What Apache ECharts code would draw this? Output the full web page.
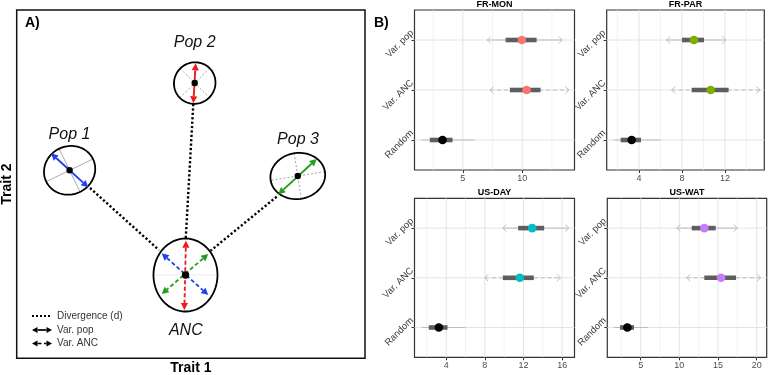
<!DOCTYPE html>
<html><head><meta charset="utf-8">
<script src="https://cdn.jsdelivr.net/npm/echarts@6/dist/echarts.min.js"></script>
<style>html,body{margin:0;padding:0;background:#fff}#c{width:768px;height:375px}</style>
</head><body><div id="c"></div>
<script>
// ================= DATA =================
// Panel B: rows (bottom to top)
const categories = ['Random', 'Var. ANC', 'Var. pop'];
const panelNames = ['FR-MON', 'FR-PAR', 'US-DAY', 'US-WAT'];

// values per category, ordered as `categories`
const frMonLow95  = [1.49, 7.28, 7.05];
const frMonLow50  = [2.22, 8.96, 8.60];
const frMonMid    = [3.29, 10.37, 9.97];
const frMonHigh50 = [4.13, 11.54, 11.21];
const frMonHigh95 = [6.01, 13.93, 13.37];

const frParLow95  = [1.61, 7.04, 6.57];
const frParLow50  = [2.30, 8.90, 8.00];
const frParMid    = [3.32, 10.67, 9.12];
const frParHigh50 = [4.19, 12.34, 10.05];
const frParHigh95 = [6.02, 15.26, 12.09];

const usDayLow95  = [1.48, 8.00, 9.86];
const usDayLow50  = [2.20, 9.86, 11.45];
const usDayMid    = [3.24, 11.62, 12.90];
const usDayHigh50 = [4.14, 13.07, 14.14];
const usDayHigh95 = [6.00, 15.83, 16.69];

const usWatLow95  = [1.55, 10.95, 9.66];
const usWatLow50  = [2.33, 13.23, 11.60];
const usWatMid    = [3.28, 15.39, 13.23];
const usWatHigh50 = [4.14, 17.33, 14.70];
const usWatHigh95 = [5.99, 20.50, 17.50];

// tick labels
const frMonTicks = [5, 10];
const frParTicks = [4, 8, 12];
const usDayTicks = [4, 8, 12, 16];
const usWatTicks = [5, 10, 15, 20];
const frMonMinor = [2.5, 7.5, 12.5];
const frParMinor = [2, 6, 10, 14];
const usDayMinor = [2, 6, 10, 14];
const usWatMinor = [2.5, 7.5, 12.5, 17.5];

// Panel A: schematic (0-100 trait space)
const popNames    = ['Pop 1', 'Pop 2', 'Pop 3', 'ANC'];
const popCenterX  = [15.19, 51.11, 80.70, 48.46];
const popCenterY  = [53.97, 79.03, 52.34, 23.91];
const popRadiusX  = [7.46, 6.03, 7.89, 9.19];
const popRadiusY  = [6.89, 5.89, 6.60, 10.48];
const popTilt     = [26, 45, 9, 0];
const popLabelX   = [15.16, 51.10, 80.76, 48.55];
const popLabelY   = [64.11, 90.72, 62.87, 7.84];

const popArrowX1 = [9.85, 51.39, 86.13];
const popArrowY1 = [58.85, 84.69, 57.22];
const popArrowX2 = [20.56, 50.70, 75.10];
const popArrowY2 = [49.09, 73.21, 47.08];

const ancArrowX1 = [41.63, 48.60, 55.01];
const ancArrowY1 = [30.14, 33.76, 29.94];
const ancArrowX2 = [55.01, 48.12, 41.63];
const ancArrowY2 = [18.17, 13.87, 18.46];

const divX1 = [21.04, 50.70, 74.64];
const divY1 = [48.89, 73.01, 46.39];
const divX2 = [40.85, 48.52, 55.69];
const divY2 = [31.09, 34.25, 30.89];

// ================= STYLE / LAYOUT =================
const FONT = 'Arial, "Liberation Sans", Helvetica, sans-serif';
const popColors = ['#1f3ff0', '#ee1c1c', '#1f9e1f'];
const crossStyles = {
  'Pop 1': {stroke: '#a0a0a0', lineWidth: 0.9},
  'Pop 2': {stroke: '#999', lineWidth: 0.9, lineDash: [2, 2]},
  'Pop 3': {stroke: '#999', lineWidth: 0.9, lineDash: [2, 2]},
  'ANC':   {stroke: '#e8e8e8', lineWidth: 0.9}
};
const panelLayout = [
  {left: 414.5, top: 10, width: 160, height: 160, range: [0.93, 14.4], color: '#F8766D'},
  {left: 606.7, top: 10, width: 157.6, height: 160, range: [1.0, 15.66], color: '#7CAE00'},
  {left: 414.5, top: 198.3, width: 160, height: 159, range: [0.72, 17.28], color: '#00BFC4'},
  {left: 607.3, top: 198.3, width: 159.4, height: 159, range: [0.69, 21.29], color: '#C77CFF'}
];
const panelData = [
  {ticks: frMonTicks, minor: frMonMinor, v: [frMonLow95, frMonLow50, frMonMid, frMonHigh50, frMonHigh95]},
  {ticks: frParTicks, minor: frParMinor, v: [frParLow95, frParLow50, frParMid, frParHigh50, frParHigh95]},
  {ticks: usDayTicks, minor: usDayMinor, v: [usDayLow95, usDayLow50, usDayMid, usDayHigh50, usDayHigh95]},
  {ticks: usWatTicks, minor: usWatMinor, v: [usWatLow95, usWatLow50, usWatMid, usWatHigh50, usWatHigh95]}
];

function arrowParts(p1, p2, color, dashed, lw, hl, hw) {
  const dx = p2[0] - p1[0], dy = p2[1] - p1[1];
  const L = Math.hypot(dx, dy) || 1;
  const ux = dx / L, uy = dy / L, nx = -uy, ny = ux;
  const a = [p1[0] + ux * hl, p1[1] + uy * hl];
  const b = [p2[0] - ux * hl, p2[1] - uy * hl];
  return [
    {type: 'line', shape: {x1: a[0], y1: a[1], x2: b[0], y2: b[1]},
     style: {stroke: color, lineWidth: lw, lineDash: dashed ? [4, 2.5] : null}},
    {type: 'polygon', shape: {points: [p1, [a[0] + nx * hw, a[1] + ny * hw], [a[0] - nx * hw, a[1] - ny * hw]]},
     style: {fill: color}},
    {type: 'polygon', shape: {points: [p2, [b[0] + nx * hw, b[1] + ny * hw], [b[0] - nx * hw, b[1] - ny * hw]]},
     style: {fill: color}}
  ];
}

// ================= BUILD =================
const grids = [], xAxes = [], yAxes = [], series = [], graphics = [];

panelLayout.forEach((L, i) => {
  const D = panelData[i];
  grids.push({left: L.left, top: L.top, width: L.width, height: L.height, show: true,
    borderColor: '#333', borderWidth: 1.2, backgroundColor: '#fff', containLabel: false, outerBoundsMode: 'none'});
  xAxes.push({gridIndex: i, type: 'value', min: L.range[0], max: L.range[1],
    axisLine: {show: false},
    axisTick: {show: true, customValues: D.ticks, length: 3, lineStyle: {color: '#333', width: 1}},
    axisLabel: {customValues: D.ticks, color: '#4d4d4d', fontSize: 9, margin: 4, fontFamily: FONT},
    splitLine: {show: false}});
  yAxes.push({gridIndex: i, type: 'value', min: 0.4, max: 3.6,
    axisLine: {show: false},
    axisTick: {show: true, customValues: [1, 2, 3], length: 3, lineStyle: {color: '#333', width: 1}},
    axisLabel: {customValues: [1, 2, 3], formatter: v => categories[Math.round(v) - 1] || '',
      rotate: 45, color: '#3a3a3a', fontSize: 9.5, fontFamily: FONT, margin: -6,
      verticalAlign: 'bottom', padding: [0, 0, 7, 0]},
    splitLine: {show: false}});

  // grid lines
  const gl = [];
  D.ticks.forEach(v => gl.push([v, 1, 0]));
  D.minor.forEach(v => gl.push([v, 1, 1]));
  categories.forEach((c, k) => gl.push([L.range[0], k + 1, 2]));
  series.push({type: 'custom', xAxisIndex: i, yAxisIndex: i, z: 1, silent: true, data: gl,
    renderItem: (params, api) => {
      const cs = params.coordSys;
      const kind = api.value(2);
      if (kind < 2) {
        const x = api.coord([api.value(0), 1])[0];
        return {type: 'line', shape: {x1: x, y1: cs.y, x2: x, y2: cs.y + cs.height},
          style: {stroke: kind === 0 ? '#e4e4e4' : '#eeeeee', lineWidth: kind === 0 ? 1 : 0.7}};
      }
      const y = api.coord([api.value(0), api.value(1)])[1];
      return {type: 'line', shape: {x1: cs.x, y1: y, x2: cs.x + cs.width, y2: y},
        style: {stroke: '#e4e4e4', lineWidth: 1}};
    }});

  // intervals
  const rows = categories.map((c, k) => [D.v[2][k], k + 1, D.v[0][k], D.v[1][k], D.v[3][k], D.v[4][k]]);
  series.push({type: 'custom', xAxisIndex: i, yAxisIndex: i, z: 3, silent: true, data: rows,
    renderItem: (params, api) => {
      const row = api.value(1);
      const cat = categories[row - 1];
      const mid = api.coord([api.value(0), row]);
      const lo95 = api.coord([api.value(2), row]);
      const lo50 = api.coord([api.value(3), row]);
      const hi50 = api.coord([api.value(4), row]);
      const hi95 = api.coord([api.value(5), row]);
      const y = mid[1];
      const thin = {stroke: '#bdbdbd', lineWidth: 1, fill: 'none'};
      const ch = [];
      ch.push({type: 'line', shape: {x1: lo95[0], y1: y, x2: hi95[0], y2: y},
        style: Object.assign({}, thin, {lineDash: cat === 'Var. ANC' ? [4, 3] : null})});
      if (cat !== 'Random') {
        ch.push({type: 'polyline', shape: {points: [[lo95[0] + 3.5, y - 3.5], [lo95[0], y], [lo95[0] + 3.5, y + 3.5]]}, style: thin});
        ch.push({type: 'polyline', shape: {points: [[hi95[0] - 3.5, y - 3.5], [hi95[0], y], [hi95[0] - 3.5, y + 3.5]]}, style: thin});
      }
      ch.push({type: 'rect', shape: {x: lo50[0], y: y - 2.3, width: hi50[0] - lo50[0], height: 4.6}, style: {fill: '#5e5e5e'}});
      ch.push({type: 'circle', shape: {cx: mid[0], cy: y, r: 4.3}, style: {fill: cat === 'Random' ? '#000' : L.color}});
      return {type: 'group', children: ch};
    }});

  graphics.push({type: 'text', x: L.left + L.width / 2, y: L.top - 5.5,
    style: {text: panelNames[i], font: 'bold 9px ' + FONT, fill: '#000', align: 'center', verticalAlign: 'middle'}});
});

// ---- Panel A ----
const A = 4;
grids.push({left: 16.7, top: 10, width: 348.3, height: 348.3, show: true, borderColor: '#111', borderWidth: 1.5,
  backgroundColor: '#fff', containLabel: false, outerBoundsMode: 'none'});
xAxes.push({gridIndex: A, type: 'value', min: 0, max: 100, name: 'Trait 1', nameLocation: 'middle', nameGap: 3,
  nameTextStyle: {fontWeight: 'bold', fontSize: 14, color: '#000', fontFamily: FONT},
  axisLine: {show: false}, axisTick: {show: false}, axisLabel: {show: false}, splitLine: {show: false}});
yAxes.push({gridIndex: A, type: 'value', min: 0, max: 100, name: 'Trait 2', nameLocation: 'middle', nameGap: 3, nameRotate: 90,
  nameTextStyle: {fontWeight: 'bold', fontSize: 14, color: '#000', fontFamily: FONT},
  axisLine: {show: false}, axisTick: {show: false}, axisLabel: {show: false}, splitLine: {show: false}});

// divergence lines
series.push({type: 'custom', xAxisIndex: A, yAxisIndex: A, z: 2, silent: true,
  data: divX1.map((v, k) => [v, divY1[k], divX2[k], divY2[k]]),
  renderItem: (params, api) => {
    const p1 = api.coord([api.value(0), api.value(1)]);
    const p2 = api.coord([api.value(2), api.value(3)]);
    return {type: 'line', shape: {x1: p1[0], y1: p1[1], x2: p2[0], y2: p2[1]},
      style: {stroke: '#000', lineWidth: 2.4, lineDash: [2.2, 2.2]}};
  }});

// ellipses
series.push({type: 'custom', xAxisIndex: A, yAxisIndex: A, z: 2, silent: true,
  data: popNames.map((n, k) => [popCenterX[k], popCenterY[k], popRadiusX[k], popRadiusY[k], popTilt[k]]),
  renderItem: (params, api) => {
    const cx = api.value(0), cy = api.value(1), rx = api.value(2), ry = api.value(3);
    const r = api.value(4) * Math.PI / 180, c = Math.cos(r), s = Math.sin(r);
    const pts = [];
    for (let k = 0; k < 90; k++) {
      const t = 2 * Math.PI * k / 90;
      const dx = rx * Math.cos(t), dy = ry * Math.sin(t);
      pts.push(api.coord([cx + dx * c - dy * s, cy + dx * s + dy * c]));
    }
    const cs = crossStyles[popNames[params.dataIndex]];
    const a1 = api.coord([cx + rx * c, cy + rx * s]), a2 = api.coord([cx - rx * c, cy - rx * s]);
    const b1 = api.coord([cx - ry * s, cy + ry * c]), b2 = api.coord([cx + ry * s, cy - ry * c]);
    return {type: 'group', children: [
      {type: 'line', shape: {x1: a1[0], y1: a1[1], x2: a2[0], y2: a2[1]}, style: cs},
      {type: 'line', shape: {x1: b1[0], y1: b1[1], x2: b2[0], y2: b2[1]}, style: cs},
      {type: 'polygon', shape: {points: pts}, style: {fill: 'none', stroke: '#000', lineWidth: 1.8}}
    ]};
  }});

// population variance arrows (solid)
series.push({type: 'custom', xAxisIndex: A, yAxisIndex: A, z: 3, silent: true,
  data: popArrowX1.map((v, k) => [v, popArrowY1[k], popArrowX2[k], popArrowY2[k]]),
  renderItem: (params, api) => {
    const p1 = api.coord([api.value(0), api.value(1)]);
    const p2 = api.coord([api.value(2), api.value(3)]);
    return {type: 'group', children: arrowParts(p1, p2, popColors[params.dataIndex], false, 1.9, 7, 3.6)};
  }});

// ancestral variance arrows (dashed)
series.push({type: 'custom', xAxisIndex: A, yAxisIndex: A, z: 3, silent: true,
  data: ancArrowX1.map((v, k) => [v, ancArrowY1[k], ancArrowX2[k], ancArrowY2[k]]),
  renderItem: (params, api) => {
    const p1 = api.coord([api.value(0), api.value(1)]);
    const p2 = api.coord([api.value(2), api.value(3)]);
    return {type: 'group', children: arrowParts(p1, p2, popColors[params.dataIndex], true, 1.8, 7, 3.6)};
  }});

// center dots
series.push({type: 'custom', xAxisIndex: A, yAxisIndex: A, z: 4, silent: true,
  data: popNames.map((n, k) => [popCenterX[k], popCenterY[k]]),
  renderItem: (params, api) => {
    const p = api.coord([api.value(0), api.value(1)]);
    return {type: 'circle', shape: {cx: p[0], cy: p[1], r: popNames[params.dataIndex] === 'ANC' ? 3.7 : 3.2}, style: {fill: '#000'}};
  }});

// labels
series.push({type: 'custom', xAxisIndex: A, yAxisIndex: A, z: 4, silent: true,
  data: popNames.map((n, k) => [popLabelX[k], popLabelY[k]]),
  renderItem: (params, api) => {
    const p = api.coord([api.value(0), api.value(1)]);
    return {type: 'text', x: p[0], y: p[1],
      style: {text: popNames[params.dataIndex], font: 'italic 16px ' + FONT, fill: '#111', align: 'center', verticalAlign: 'middle'}};
  }});

// Panel A legend
const legY = [316, 330, 343.5];
graphics.push({type: 'line', shape: {x1: 32, y1: legY[0], x2: 51, y2: legY[0]}, style: {stroke: '#000', lineWidth: 2, lineDash: [2, 2]}});
arrowParts([32, legY[1]], [52, legY[1]], '#000', false, 1.7, 5.5, 3).forEach(e => graphics.push(e));
arrowParts([32, legY[2]], [52, legY[2]], '#000', true, 1.7, 5.5, 3).forEach(e => graphics.push(e));
['Divergence (d)', 'Var. pop', 'Var. ANC'].forEach((t, k) => graphics.push({type: 'text', x: 57, y: legY[k],
  style: {text: t, font: '10px ' + FONT, fill: '#333', align: 'left', verticalAlign: 'middle'}}));

// panel letters
graphics.push({type: 'text', x: 25, y: 23, style: {text: 'A)', font: 'bold 14px ' + FONT, fill: '#000', align: 'left', verticalAlign: 'middle'}});
graphics.push({type: 'text', x: 374, y: 23, style: {text: 'B)', font: 'bold 14px ' + FONT, fill: '#000', align: 'left', verticalAlign: 'middle'}});

const chart = echarts.init(document.getElementById('c'));
chart.setOption({
  animation: false,
  backgroundColor: '#fff',
  textStyle: {fontFamily: FONT},
  grid: grids,
  xAxis: xAxes,
  yAxis: yAxes,
  series: series,
  graphic: {elements: graphics.map(e => Object.assign({z: 100}, e))}
});
</script>
</body></html>
